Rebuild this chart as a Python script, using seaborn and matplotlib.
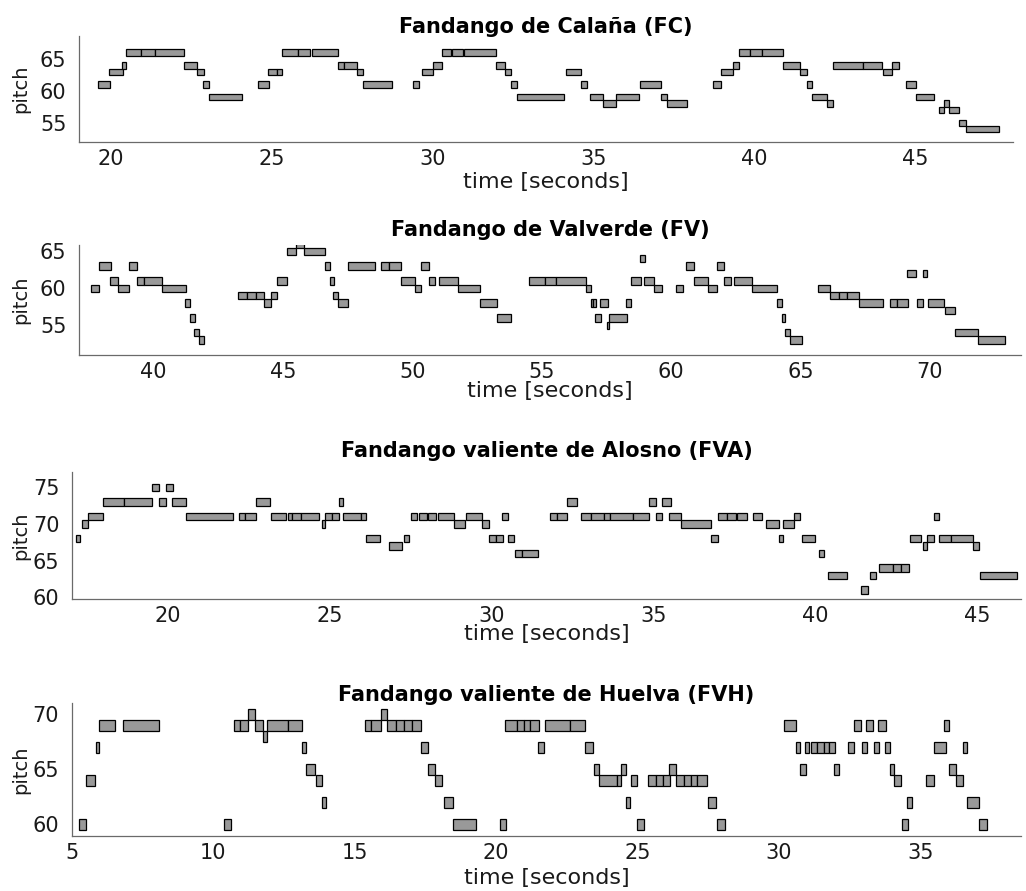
import numpy as np
import pandas as pd
import matplotlib
matplotlib.use("Agg")
import matplotlib.pyplot as plt
import seaborn as sns

# ---------------- data (onset [s], offset [s], MIDI pitch) ----------------
fc_onset = [19.61, 19.96, 20.35, 20.48, 20.94, 21.38, 22.29, 22.69, 22.88, 23.04,
            24.58, 24.90, 25.16, 25.33, 25.83, 26.26, 27.05, 27.25, 27.64, 27.83,
            29.40, 29.68, 30.02, 30.30, 30.60, 30.97, 31.96, 32.26, 32.44, 32.61,
            34.14, 34.62, 34.89, 35.30, 35.69, 36.43, 37.08, 37.29,
            38.70, 38.94, 39.32, 39.50, 39.84, 40.23, 40.89, 41.41, 41.61, 41.79,
            42.24, 42.44, 43.37, 43.98, 44.25, 44.69, 45.00, 45.73, 45.89, 46.04,
            46.34, 46.55]
fc_offset = [19.98, 20.37, 20.48, 20.94, 21.38, 22.28, 22.69, 22.89, 23.04, 24.09,
             24.91, 25.16, 25.33, 25.83, 26.19, 27.05, 27.25, 27.64, 27.83, 28.75,
             29.57, 30.02, 30.30, 30.58, 30.95, 31.96, 32.26, 32.44, 32.63, 34.09,
             34.62, 34.78, 35.30, 35.69, 36.41, 37.08, 37.29, 37.91,
             38.96, 39.32, 39.50, 39.84, 40.23, 40.89, 41.41, 41.61, 41.79, 42.24,
             42.44, 43.37, 43.94, 44.25, 44.49, 45.01, 45.58, 45.89, 46.04, 46.33,
             46.55, 47.60]
fc_pitch = [61, 63, 64, 66, 66, 66, 64, 63, 61, 59,
            61, 63, 63, 66, 66, 66, 64, 64, 63, 61,
            61, 63, 64, 66, 66, 66, 64, 63, 61, 59,
            63, 61, 59, 58, 59, 61, 59, 58,
            61, 63, 64, 66, 66, 66, 64, 63, 61, 59,
            58, 64, 64, 63, 64, 61, 59, 57, 58, 57,
            55, 54]

fv_onset = [37.58, 37.90, 38.32, 38.62, 39.06, 39.34, 39.61, 40.32, 41.22, 41.40,
            41.57, 41.75, 43.25, 43.61, 43.95, 44.28, 44.55, 44.77, 45.16, 45.49,
            45.82, 46.61, 46.80, 46.94, 47.12, 47.51, 48.77, 49.11, 49.56, 50.11,
            50.32, 50.63, 51.04, 51.76, 52.61, 53.28, 54.50, 55.11, 55.55, 56.71,
            56.89, 56.98, 57.06, 57.25, 57.54, 57.60, 58.27, 58.45, 58.81, 58.96,
            59.33, 60.18, 60.59, 60.90, 61.44, 61.79, 62.06, 62.43, 63.12, 64.08,
            64.29, 64.42, 64.60, 65.67, 66.14, 66.50, 66.79, 67.28, 68.46, 68.72,
            69.13, 69.52, 69.74, 69.93, 70.60, 70.97, 71.87]
fv_offset = [37.90, 38.35, 38.62, 39.06, 39.34, 39.61, 40.32, 41.25, 41.41, 41.58,
             41.75, 41.93, 43.61, 43.95, 44.28, 44.55, 44.77, 45.16, 45.49, 45.82,
             46.61, 46.80, 46.97, 47.12, 47.51, 48.54, 49.11, 49.56, 50.11, 50.33,
             50.64, 50.87, 51.76, 52.61, 53.28, 53.80, 55.11, 55.55, 56.71, 56.92,
             56.98, 57.09, 57.28, 57.55, 57.60, 58.28, 58.46, 58.83, 58.99, 59.33,
             59.66, 60.47, 60.90, 61.44, 61.79, 62.06, 62.30, 63.12, 64.10, 64.30,
             64.42, 64.60, 65.06, 66.14, 66.50, 66.79, 67.28, 68.20, 68.72, 69.15,
             69.46, 69.75, 69.89, 70.56, 70.99, 71.87, 72.91]
fv_pitch = [60, 63, 61, 60, 63, 61, 61, 60, 58, 56,
            54, 53, 59, 59, 59, 58, 59, 61, 65, 66,
            65, 63, 61, 59, 58, 63, 63, 63, 61, 60,
            63, 61, 61, 60, 58, 56, 61, 61, 61, 60,
            58, 58, 56, 58, 55, 56, 58, 61, 64, 61,
            60, 60, 63, 61, 60, 63, 61, 61, 60, 58,
            56, 54, 53, 60, 59, 59, 59, 58, 58, 58,
            62, 58, 62, 58, 57, 54, 53]

fva_onset = [17.18, 17.36, 17.56, 18.02, 18.67, 19.52, 19.74, 19.95, 20.16, 20.59,
             22.20, 22.39, 22.75, 23.21, 23.73, 23.86, 24.13, 24.78, 24.88, 25.09,
             25.29, 25.43, 25.99, 26.12, 26.85, 27.31, 27.51, 27.78, 28.04, 28.35,
             28.86, 29.23, 29.71, 29.94, 30.13, 30.34, 30.51, 30.72, 30.96, 31.82,
             32.02, 32.34, 32.76, 33.08, 33.49, 33.66, 34.36, 34.88, 35.07, 35.27,
             35.49, 35.84, 36.79, 37.00, 37.26, 37.57, 38.07, 38.47, 38.87, 38.99,
             39.33, 39.60, 40.12, 40.40, 41.42, 41.69, 41.97, 42.41, 42.65, 42.91,
             43.31, 43.45, 43.65, 43.81, 44.18, 44.86, 45.08]
fva_offset = [17.32, 17.56, 18.02, 18.67, 19.52, 19.74, 19.95, 20.17, 20.59, 22.02,
              22.39, 22.73, 23.18, 23.65, 23.86, 24.13, 24.67, 24.88, 25.09, 25.29,
              25.43, 25.99, 26.12, 26.57, 27.23, 27.45, 27.70, 28.01, 28.28, 28.86,
              29.20, 29.71, 29.94, 30.13, 30.36, 30.51, 30.69, 30.96, 31.45, 32.02,
              32.33, 32.64, 33.08, 33.49, 33.66, 34.36, 34.88, 35.07, 35.27, 35.54,
              35.84, 36.78, 36.99, 37.26, 37.55, 37.90, 38.35, 38.89, 39.01, 39.33,
              39.54, 40.00, 40.27, 40.97, 41.64, 41.87, 42.41, 42.65, 42.88, 43.26,
              43.45, 43.65, 43.81, 44.18, 44.88, 45.05, 46.22]
fva_pitch = [68, 70, 71, 73, 73, 75, 73, 75, 73, 71,
             71, 71, 73, 71, 71, 71, 71, 70, 71, 71,
             73, 71, 71, 68, 67, 68, 71, 71, 71, 71,
             70, 71, 70, 68, 68, 71, 68, 66, 66, 71,
             71, 73, 71, 71, 71, 71, 71, 73, 71, 73,
             71, 70, 68, 71, 71, 71, 71, 70, 68, 70,
             71, 68, 66, 63, 61, 63, 64, 64, 64, 68,
             67, 68, 71, 68, 68, 67, 63]

fvh_onset = [5.25, 5.51, 5.85, 5.97, 6.82, 10.37, 10.73, 10.96, 11.25, 11.49,
             11.75, 11.91, 12.64, 13.13, 13.30, 13.63, 13.84, 15.36, 15.59, 15.95,
             16.15, 16.48, 16.76, 17.02, 17.36, 17.58, 17.86, 18.15, 18.49, 20.15,
             20.33, 20.74, 20.98, 21.19, 21.47, 21.74, 22.63, 23.16, 23.45, 23.63,
             24.28, 24.42, 24.58, 24.76, 25.00, 25.37, 25.65, 25.89, 26.13, 26.37,
             26.63, 26.89, 27.10, 27.48, 27.81, 30.19, 30.59, 30.76, 30.93, 31.14,
             31.35, 31.58, 31.79, 31.95, 32.44, 32.64, 32.94, 33.08, 33.38, 33.52,
             33.77, 33.93, 34.07, 34.36, 34.54, 35.22, 35.49, 35.85, 36.01, 36.27,
             36.50, 36.64, 37.09]
fvh_offset = [5.51, 5.82, 5.97, 6.54, 8.10, 10.64, 10.96, 11.25, 11.49, 11.75,
              11.91, 12.64, 13.13, 13.30, 13.60, 13.84, 13.99, 15.59, 15.95, 16.15,
              16.48, 16.76, 17.02, 17.35, 17.58, 17.86, 18.08, 18.49, 19.30, 20.34,
              20.74, 20.98, 21.19, 21.51, 21.71, 22.63, 23.16, 23.43, 23.63, 24.28,
              24.42, 24.60, 24.75, 24.98, 25.22, 25.65, 25.89, 26.16, 26.37, 26.63,
              26.89, 27.10, 27.46, 27.79, 28.08, 30.60, 30.75, 30.95, 31.08, 31.35,
              31.58, 31.79, 32.00, 32.12, 32.64, 32.90, 33.11, 33.34, 33.53, 33.78,
              33.93, 34.07, 34.31, 34.58, 34.72, 35.49, 35.91, 36.01, 36.27, 36.50,
              36.67, 37.09, 37.35]
fvh_pitch = [60, 64, 67, 69, 69, 60, 69, 69, 70, 69,
             68, 69, 69, 67, 65, 64, 62, 69, 69, 70,
             69, 69, 69, 69, 67, 65, 64, 62, 60, 60,
             69, 69, 69, 69, 67, 69, 69, 67, 65, 64,
             64, 65, 62, 64, 60, 64, 64, 64, 65, 64,
             64, 64, 64, 62, 60, 69, 67, 65, 67, 67,
             67, 67, 67, 65, 67, 69, 67, 69, 67, 69,
             67, 65, 64, 60, 62, 64, 67, 69, 65, 64,
             67, 62, 60]

titles = ["Fandango de Calaña (FC)", "Fandango de Valverde (FV)",
          "Fandango valiente de Alosno (FVA)", "Fandango valiente de Huelva (FVH)"]
x_ticks = [[20, 25, 30, 35, 40, 45], [40, 45, 50, 55, 60, 65, 70],
           [20, 25, 30, 35, 40, 45], [5, 10, 15, 20, 25, 30, 35]]
y_ticks = [[55, 60, 65], [55, 60, 65], [60, 65, 70, 75], [60, 65, 70]]

# ---------------- style ----------------
sns.set_theme(style="white")
plt.rcParams["font.family"] = ["DejaVu Sans"]

W, H = 1026, 891
fig = plt.figure(figsize=(W / 100, H / 100), dpi=100)
fig.patch.set_facecolor("white")


def rect(l, t, r, b):
    return [l / W, 1 - b / H, (r - l) / W, (b - t) / H]


# axes boxes in pixels: left, top, right, bottom
boxes = [(79, 36, 1013, 141.7), (79, 245, 1021, 355),
         (72, 472, 1021, 599), (71.7, 703.3, 1021, 835.7)]
title_base = [33, 236, 457, 701]   # title baseline (px)
xlabel_y = [182, 391, 634, 878]    # xlabel centre (px)

pieces = [(fc_onset, fc_offset, fc_pitch), (fv_onset, fv_offset, fv_pitch),
          (fva_onset, fva_offset, fva_pitch), (fvh_onset, fvh_offset, fvh_pitch)]
# reference pitch, its row in px, px per semitone -> ylim
y_ref = [(55, 122.7, 6.37), (60, 288.3, 7.4), (70, 524.0, 7.33), (65, 769.3, 11.03)]
# reference time, its column in px, px per second -> xlim
x_ref = [(20, 110.7, 32.2), (40, 153.7, 25.87), (20, 167.3, 32.4), (10, 212.7, 28.3)]

for i, (on, off, pit) in enumerate(pieces):
    l, t, r, b = boxes[i]
    ax = fig.add_axes(rect(l, t, r, b))
    df = pd.DataFrame({"onset": on, "offset": off, "pitch": pit})
    df["dur"] = df["offset"] - df["onset"]
    ax.bar(df["onset"], height=1.0, width=df["dur"], bottom=df["pitch"] - 0.5,
           align="edge", color="#999999", edgecolor="black", linewidth=0.9)
    p0, y0, s = y_ref[i]
    ax.set_ylim(p0 - (b - y0) / s, p0 + (y0 - t) / s)
    t0, x0, sx = x_ref[i]
    ax.set_xlim(t0 - (x0 - l) / sx, t0 + (r - x0) / sx)
    ax.set_xticks(x_ticks[i])
    ax.set_yticks(y_ticks[i])
    ax.tick_params(direction="in", length=7, width=0.8, color="#333333",
                   labelsize=15, labelcolor="#1a1a1a")
    ax.tick_params(axis="x", pad=5)
    ax.tick_params(axis="y", pad=9)
    sns.despine(ax=ax)
    for sp in ("left", "bottom"):
        ax.spines[sp].set_color("#6a6a6a")
        ax.spines[sp].set_linewidth(0.9)
    ax.grid(False)
    ax.set_facecolor("white")
    ax.set_xlabel("time [seconds]", fontsize=16, color="#1a1a1a", va="center")
    ax.xaxis.set_label_coords(0.5, -(xlabel_y[i] - b) / (b - t))
    ax.set_ylabel("pitch", fontsize=14, color="#1a1a1a", va="center")
    ax.yaxis.set_label_coords(-(l - 21) / (r - l), 0.5)
    ax.text(0.5, (b - title_base[i]) / (b - t), titles[i], transform=ax.transAxes,
            ha="center", va="baseline", fontsize=15, fontweight="bold",
            color="black")

fig.savefig("out.png", dpi=100)
